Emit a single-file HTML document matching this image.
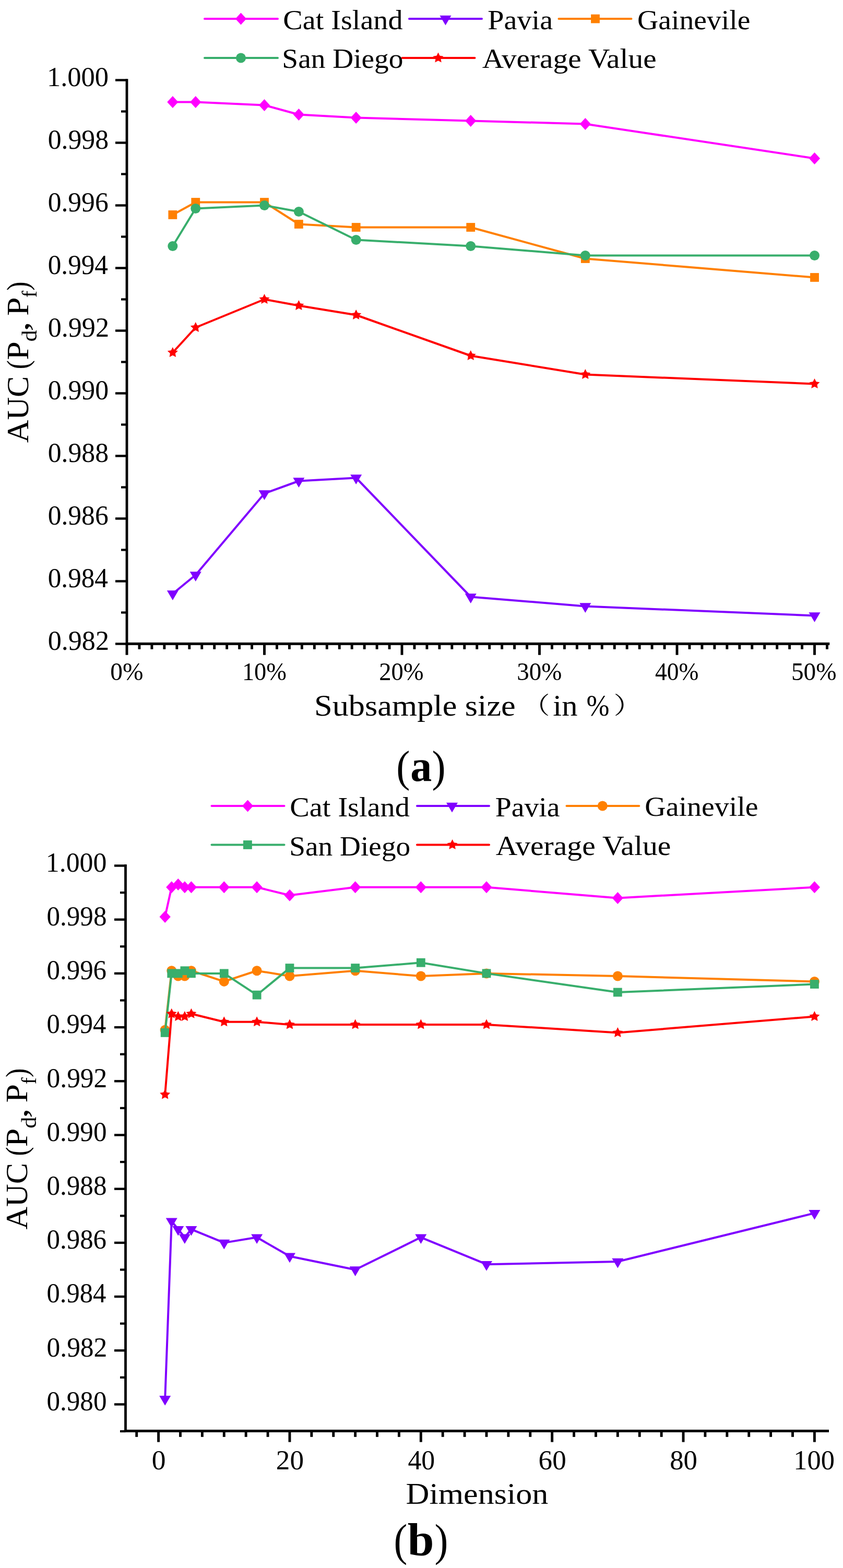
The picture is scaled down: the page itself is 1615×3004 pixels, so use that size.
<!DOCTYPE html>
<html><head><meta charset="utf-8"><style>
html,body{margin:0;padding:0;background:#fff;}
svg{display:block;}
</style></head><body>
<svg width="1615" height="3004" viewBox="0 0 1615 3004" font-family="'Liberation Serif', serif" fill="#000">
<rect width="1615" height="3004" fill="#fff"/>
<rect x="240.60" y="151.20" width="4.80" height="1084.70" fill="#000"/>
<rect x="240.60" y="1230.90" width="1348.70" height="5.00" fill="#000"/>
<rect x="221.00" y="151.30" width="22.00" height="4.40" fill="#000"/>
<text x="89.88" y="165.00" font-size="52.80" textLength="118.22" lengthAdjust="spacingAndGlyphs" >1.000</text>
<rect x="221.00" y="271.30" width="22.00" height="4.40" fill="#000"/>
<text x="91.74" y="285.00" font-size="52.80" textLength="116.33" lengthAdjust="spacingAndGlyphs" >0.998</text>
<rect x="221.00" y="391.30" width="22.00" height="4.40" fill="#000"/>
<text x="91.74" y="405.00" font-size="52.80" textLength="115.90" lengthAdjust="spacingAndGlyphs" >0.996</text>
<rect x="221.00" y="511.30" width="22.00" height="4.40" fill="#000"/>
<text x="91.76" y="525.00" font-size="52.80" textLength="115.16" lengthAdjust="spacingAndGlyphs" >0.994</text>
<rect x="221.00" y="631.30" width="22.00" height="4.40" fill="#000"/>
<text x="91.72" y="645.00" font-size="52.80" textLength="117.25" lengthAdjust="spacingAndGlyphs" >0.992</text>
<rect x="221.00" y="751.30" width="22.00" height="4.40" fill="#000"/>
<text x="91.74" y="765.00" font-size="52.80" textLength="116.33" lengthAdjust="spacingAndGlyphs" >0.990</text>
<rect x="221.00" y="871.30" width="22.00" height="4.40" fill="#000"/>
<text x="91.74" y="885.00" font-size="52.80" textLength="116.33" lengthAdjust="spacingAndGlyphs" >0.988</text>
<rect x="221.00" y="991.30" width="22.00" height="4.40" fill="#000"/>
<text x="91.74" y="1005.00" font-size="52.80" textLength="115.90" lengthAdjust="spacingAndGlyphs" >0.986</text>
<rect x="221.00" y="1111.30" width="22.00" height="4.40" fill="#000"/>
<text x="91.76" y="1125.00" font-size="52.80" textLength="115.16" lengthAdjust="spacingAndGlyphs" >0.984</text>
<rect x="221.00" y="1231.30" width="22.00" height="4.40" fill="#000"/>
<text x="91.72" y="1245.00" font-size="52.80" textLength="117.25" lengthAdjust="spacingAndGlyphs" >0.982</text>
<rect x="232.00" y="211.40" width="11.00" height="4.20" fill="#000"/>
<rect x="232.00" y="331.40" width="11.00" height="4.20" fill="#000"/>
<rect x="232.00" y="451.40" width="11.00" height="4.20" fill="#000"/>
<rect x="232.00" y="571.40" width="11.00" height="4.20" fill="#000"/>
<rect x="232.00" y="691.40" width="11.00" height="4.20" fill="#000"/>
<rect x="232.00" y="811.40" width="11.00" height="4.20" fill="#000"/>
<rect x="232.00" y="931.40" width="11.00" height="4.20" fill="#000"/>
<rect x="232.00" y="1051.40" width="11.00" height="4.20" fill="#000"/>
<rect x="232.00" y="1171.40" width="11.00" height="4.20" fill="#000"/>
<rect x="240.55" y="1233.40" width="4.90" height="21.40" fill="#000"/>
<rect x="504.05" y="1233.40" width="4.90" height="21.40" fill="#000"/>
<rect x="767.55" y="1233.40" width="4.90" height="21.40" fill="#000"/>
<rect x="1031.05" y="1233.40" width="4.90" height="21.40" fill="#000"/>
<rect x="1294.55" y="1233.40" width="4.90" height="21.40" fill="#000"/>
<rect x="1558.05" y="1233.40" width="4.90" height="21.40" fill="#000"/>
<rect x="264.50" y="1233.40" width="4.90" height="10.40" fill="#000"/>
<rect x="288.46" y="1233.40" width="4.90" height="10.40" fill="#000"/>
<rect x="312.41" y="1233.40" width="4.90" height="10.40" fill="#000"/>
<rect x="336.37" y="1233.40" width="4.90" height="10.40" fill="#000"/>
<rect x="360.32" y="1233.40" width="4.90" height="10.40" fill="#000"/>
<rect x="384.28" y="1233.40" width="4.90" height="10.40" fill="#000"/>
<rect x="408.23" y="1233.40" width="4.90" height="10.40" fill="#000"/>
<rect x="432.19" y="1233.40" width="4.90" height="10.40" fill="#000"/>
<rect x="456.14" y="1233.40" width="4.90" height="10.40" fill="#000"/>
<rect x="480.10" y="1233.40" width="4.90" height="10.40" fill="#000"/>
<rect x="528.00" y="1233.40" width="4.90" height="10.40" fill="#000"/>
<rect x="551.96" y="1233.40" width="4.90" height="10.40" fill="#000"/>
<rect x="575.91" y="1233.40" width="4.90" height="10.40" fill="#000"/>
<rect x="599.87" y="1233.40" width="4.90" height="10.40" fill="#000"/>
<rect x="623.82" y="1233.40" width="4.90" height="10.40" fill="#000"/>
<rect x="647.78" y="1233.40" width="4.90" height="10.40" fill="#000"/>
<rect x="671.73" y="1233.40" width="4.90" height="10.40" fill="#000"/>
<rect x="695.69" y="1233.40" width="4.90" height="10.40" fill="#000"/>
<rect x="719.64" y="1233.40" width="4.90" height="10.40" fill="#000"/>
<rect x="743.60" y="1233.40" width="4.90" height="10.40" fill="#000"/>
<rect x="791.50" y="1233.40" width="4.90" height="10.40" fill="#000"/>
<rect x="815.46" y="1233.40" width="4.90" height="10.40" fill="#000"/>
<rect x="839.41" y="1233.40" width="4.90" height="10.40" fill="#000"/>
<rect x="863.37" y="1233.40" width="4.90" height="10.40" fill="#000"/>
<rect x="887.32" y="1233.40" width="4.90" height="10.40" fill="#000"/>
<rect x="911.28" y="1233.40" width="4.90" height="10.40" fill="#000"/>
<rect x="935.23" y="1233.40" width="4.90" height="10.40" fill="#000"/>
<rect x="959.19" y="1233.40" width="4.90" height="10.40" fill="#000"/>
<rect x="983.14" y="1233.40" width="4.90" height="10.40" fill="#000"/>
<rect x="1007.10" y="1233.40" width="4.90" height="10.40" fill="#000"/>
<rect x="1055.00" y="1233.40" width="4.90" height="10.40" fill="#000"/>
<rect x="1078.96" y="1233.40" width="4.90" height="10.40" fill="#000"/>
<rect x="1102.91" y="1233.40" width="4.90" height="10.40" fill="#000"/>
<rect x="1126.87" y="1233.40" width="4.90" height="10.40" fill="#000"/>
<rect x="1150.82" y="1233.40" width="4.90" height="10.40" fill="#000"/>
<rect x="1174.78" y="1233.40" width="4.90" height="10.40" fill="#000"/>
<rect x="1198.73" y="1233.40" width="4.90" height="10.40" fill="#000"/>
<rect x="1222.69" y="1233.40" width="4.90" height="10.40" fill="#000"/>
<rect x="1246.64" y="1233.40" width="4.90" height="10.40" fill="#000"/>
<rect x="1270.60" y="1233.40" width="4.90" height="10.40" fill="#000"/>
<rect x="1318.50" y="1233.40" width="4.90" height="10.40" fill="#000"/>
<rect x="1342.46" y="1233.40" width="4.90" height="10.40" fill="#000"/>
<rect x="1366.41" y="1233.40" width="4.90" height="10.40" fill="#000"/>
<rect x="1390.37" y="1233.40" width="4.90" height="10.40" fill="#000"/>
<rect x="1414.32" y="1233.40" width="4.90" height="10.40" fill="#000"/>
<rect x="1438.28" y="1233.40" width="4.90" height="10.40" fill="#000"/>
<rect x="1462.23" y="1233.40" width="4.90" height="10.40" fill="#000"/>
<rect x="1486.19" y="1233.40" width="4.90" height="10.40" fill="#000"/>
<rect x="1510.14" y="1233.40" width="4.90" height="10.40" fill="#000"/>
<rect x="1534.10" y="1233.40" width="4.90" height="10.40" fill="#000"/>
<rect x="1582.00" y="1233.40" width="4.90" height="10.40" fill="#000"/>
<text x="211.20" y="1302.60" font-size="48.80" textLength="63.22" lengthAdjust="spacingAndGlyphs" >0%</text>
<text x="463.92" y="1302.60" font-size="48.80" textLength="85.06" lengthAdjust="spacingAndGlyphs" >10%</text>
<text x="726.25" y="1302.60" font-size="48.80" textLength="85.44" lengthAdjust="spacingAndGlyphs" >20%</text>
<text x="990.29" y="1302.60" font-size="48.80" textLength="86.15" lengthAdjust="spacingAndGlyphs" >30%</text>
<text x="1255.09" y="1302.60" font-size="48.80" textLength="83.46" lengthAdjust="spacingAndGlyphs" >40%</text>
<text x="1515.96" y="1302.60" font-size="48.80" textLength="86.54" lengthAdjust="spacingAndGlyphs" >50%</text>
<path d="M330.83,195.50 L374.75,195.50 L506.50,201.50 L572.38,219.50 L682.17,225.50 L901.75,231.50 L1121.33,237.50 L1560.50,303.50" fill="none" stroke="#FF00FF" stroke-width="4" stroke-linejoin="round" stroke-linecap="round"/>
<path d="M330.83,184.00L341.43,195.50L330.83,207.00L320.23,195.50Z" fill="#FF00FF"/>
<path d="M374.75,184.00L385.35,195.50L374.75,207.00L364.15,195.50Z" fill="#FF00FF"/>
<path d="M506.50,190.00L517.10,201.50L506.50,213.00L495.90,201.50Z" fill="#FF00FF"/>
<path d="M572.38,208.00L582.98,219.50L572.38,231.00L561.77,219.50Z" fill="#FF00FF"/>
<path d="M682.17,214.00L692.77,225.50L682.17,237.00L671.57,225.50Z" fill="#FF00FF"/>
<path d="M901.75,220.00L912.35,231.50L901.75,243.00L891.15,231.50Z" fill="#FF00FF"/>
<path d="M1121.33,226.00L1131.93,237.50L1121.33,249.00L1110.73,237.50Z" fill="#FF00FF"/>
<path d="M1560.50,292.00L1571.10,303.50L1560.50,315.00L1549.90,303.50Z" fill="#FF00FF"/>
<path d="M330.83,1137.50 L374.75,1101.50 L506.50,945.50 L572.38,921.50 L682.17,915.50 L901.75,1143.50 L1121.33,1161.50 L1560.50,1179.50" fill="none" stroke="#8000FF" stroke-width="4" stroke-linejoin="round" stroke-linecap="round"/>
<path d="M319.83,1131.30L341.83,1131.30L330.83,1150.00Z" fill="#8000FF"/>
<path d="M363.75,1095.30L385.75,1095.30L374.75,1114.00Z" fill="#8000FF"/>
<path d="M495.50,939.30L517.50,939.30L506.50,958.00Z" fill="#8000FF"/>
<path d="M561.38,915.30L583.38,915.30L572.38,934.00Z" fill="#8000FF"/>
<path d="M671.17,909.30L693.17,909.30L682.17,928.00Z" fill="#8000FF"/>
<path d="M890.75,1137.30L912.75,1137.30L901.75,1156.00Z" fill="#8000FF"/>
<path d="M1110.33,1155.30L1132.33,1155.30L1121.33,1174.00Z" fill="#8000FF"/>
<path d="M1549.50,1173.30L1571.50,1173.30L1560.50,1192.00Z" fill="#8000FF"/>
<path d="M330.83,411.50 L374.75,387.50 L506.50,387.50 L572.38,429.50 L682.17,435.50 L901.75,435.50 L1121.33,495.50 L1560.50,531.50" fill="none" stroke="#FF8000" stroke-width="4" stroke-linejoin="round" stroke-linecap="round"/>
<rect x="322.43" y="403.10" width="16.80" height="16.80" fill="#FF8000"/>
<rect x="366.35" y="379.10" width="16.80" height="16.80" fill="#FF8000"/>
<rect x="498.10" y="379.10" width="16.80" height="16.80" fill="#FF8000"/>
<rect x="563.98" y="421.10" width="16.80" height="16.80" fill="#FF8000"/>
<rect x="673.77" y="427.10" width="16.80" height="16.80" fill="#FF8000"/>
<rect x="893.35" y="427.10" width="16.80" height="16.80" fill="#FF8000"/>
<rect x="1112.93" y="487.10" width="16.80" height="16.80" fill="#FF8000"/>
<rect x="1552.10" y="523.10" width="16.80" height="16.80" fill="#FF8000"/>
<path d="M330.83,471.50 L374.75,399.50 L506.50,393.50 L572.38,405.50 L682.17,459.50 L901.75,471.50 L1121.33,489.50 L1560.50,489.50" fill="none" stroke="#38AE6C" stroke-width="4" stroke-linejoin="round" stroke-linecap="round"/>
<circle cx="330.83" cy="471.50" r="9.50" fill="#38AE6C"/>
<circle cx="374.75" cy="399.50" r="9.50" fill="#38AE6C"/>
<circle cx="506.50" cy="393.50" r="9.50" fill="#38AE6C"/>
<circle cx="572.38" cy="405.50" r="9.50" fill="#38AE6C"/>
<circle cx="682.17" cy="459.50" r="9.50" fill="#38AE6C"/>
<circle cx="901.75" cy="471.50" r="9.50" fill="#38AE6C"/>
<circle cx="1121.33" cy="489.50" r="9.50" fill="#38AE6C"/>
<circle cx="1560.50" cy="489.50" r="9.50" fill="#38AE6C"/>
<path d="M330.83,675.50 L374.75,627.50 L506.50,573.50 L572.38,585.50 L682.17,603.50 L901.75,681.50 L1121.33,717.50 L1560.50,735.50" fill="none" stroke="#FF0000" stroke-width="4" stroke-linejoin="round" stroke-linecap="round"/>
<polygon points="330.83,665.00 333.92,671.25 340.82,672.26 335.83,677.12 337.01,683.99 330.83,680.75 324.66,683.99 325.84,677.12 320.85,672.26 327.75,671.25" fill="#FF0000"/>
<polygon points="374.75,617.00 377.84,623.25 384.74,624.26 379.74,629.12 380.92,635.99 374.75,632.75 368.58,635.99 369.76,629.12 364.76,624.26 371.66,623.25" fill="#FF0000"/>
<polygon points="506.50,563.00 509.59,569.25 516.49,570.26 511.49,575.12 512.67,581.99 506.50,578.75 500.33,581.99 501.51,575.12 496.51,570.26 503.41,569.25" fill="#FF0000"/>
<polygon points="572.38,575.00 575.46,581.25 582.36,582.26 577.37,587.12 578.55,593.99 572.38,590.75 566.20,593.99 567.38,587.12 562.39,582.26 569.29,581.25" fill="#FF0000"/>
<polygon points="682.17,593.00 685.25,599.25 692.15,600.26 687.16,605.12 688.34,611.99 682.17,608.75 675.99,611.99 677.17,605.12 672.18,600.26 679.08,599.25" fill="#FF0000"/>
<polygon points="901.75,671.00 904.84,677.25 911.74,678.26 906.74,683.12 907.92,689.99 901.75,686.75 895.58,689.99 896.76,683.12 891.76,678.26 898.66,677.25" fill="#FF0000"/>
<polygon points="1121.33,707.00 1124.42,713.25 1131.32,714.26 1126.33,719.12 1127.51,725.99 1121.33,722.75 1115.16,725.99 1116.34,719.12 1111.35,714.26 1118.25,713.25" fill="#FF0000"/>
<polygon points="1560.50,725.00 1563.59,731.25 1570.49,732.26 1565.49,737.12 1566.67,743.99 1560.50,740.75 1554.33,743.99 1555.51,737.12 1550.51,732.26 1557.41,731.25" fill="#FF0000"/>
<line x1="392.00" y1="36.00" x2="532.00" y2="36.00" stroke="#FF00FF" stroke-width="4" stroke-linecap="round"/>
<path d="M461.50,24.50L472.10,36.00L461.50,47.50L450.90,36.00Z" fill="#FF00FF"/>
<line x1="784.00" y1="36.00" x2="923.00" y2="36.00" stroke="#8000FF" stroke-width="4" stroke-linecap="round"/>
<path d="M842.50,29.80L864.50,29.80L853.50,48.50Z" fill="#8000FF"/>
<line x1="1070.50" y1="36.00" x2="1209.50" y2="36.00" stroke="#FF8000" stroke-width="4" stroke-linecap="round"/>
<rect x="1132.10" y="27.60" width="16.80" height="16.80" fill="#FF8000"/>
<line x1="392.00" y1="111.00" x2="532.00" y2="111.00" stroke="#38AE6C" stroke-width="4" stroke-linecap="round"/>
<circle cx="461.50" cy="111.00" r="9.50" fill="#38AE6C"/>
<line x1="770.50" y1="111.00" x2="909.50" y2="111.00" stroke="#FF0000" stroke-width="4" stroke-linecap="round"/>
<polygon points="839.50,100.50 842.59,106.75 849.49,107.76 844.49,112.62 845.67,119.49 839.50,116.25 833.33,119.49 834.51,112.62 829.51,107.76 836.41,106.75" fill="#FF0000"/>
<text x="542.30" y="56.00" font-size="53.00" textLength="229.15" lengthAdjust="spacingAndGlyphs" >Cat Island</text>
<text x="934.37" y="56.00" font-size="53.00" textLength="124.80" lengthAdjust="spacingAndGlyphs" >Pavia</text>
<text x="1221.02" y="56.00" font-size="53.00" textLength="216.54" lengthAdjust="spacingAndGlyphs" >Gainevile</text>
<text x="540.39" y="130.30" font-size="53.00" textLength="232.00" lengthAdjust="spacingAndGlyphs" >San Diego</text>
<text x="923.73" y="129.50" font-size="53.00" textLength="333.90" lengthAdjust="spacingAndGlyphs" >Average Value</text>
<text x="602.03" y="1371.30" font-size="57.50" textLength="385.67" lengthAdjust="spacingAndGlyphs" >Subsample size</text>
<text x="1001.06" y="1368.02" font-size="45.19" font-family="'Liberation Serif', 'Noto Serif CJK SC', serif" textLength="52.45" lengthAdjust="spacingAndGlyphs" >（</text>
<text x="1175.56" y="1368.02" font-size="45.19" font-family="'Liberation Serif', 'Noto Serif CJK SC', serif" textLength="54.55" lengthAdjust="spacingAndGlyphs" >）</text>
<text x="1059.33" y="1370.60" font-size="57.50" textLength="47.17" lengthAdjust="spacingAndGlyphs" >in</text>
<text x="1123.50" y="1370.60" font-size="57.50" textLength="43.99" lengthAdjust="spacingAndGlyphs" >%</text>
<g transform="translate(53.70,847.70) rotate(-90)">
<text x="-0.61" y="0.00" font-size="59.00" textLength="127.75" lengthAdjust="spacingAndGlyphs" >AUC</text>
<text x="140.44" y="0.00" font-size="59.00" textLength="17.10" lengthAdjust="spacingAndGlyphs" >(</text>
<text x="157.84" y="0.00" font-size="59.00" textLength="35.63" lengthAdjust="spacingAndGlyphs" >P</text>
<text x="193.22" y="16.50" font-size="40.00" textLength="22.01" lengthAdjust="spacingAndGlyphs" >d</text>
<text x="212.72" y="0.00" font-size="59.00" textLength="18.96" lengthAdjust="spacingAndGlyphs" >,</text>
<text x="242.64" y="0.00" font-size="59.00" textLength="35.63" lengthAdjust="spacingAndGlyphs" >P</text>
<text x="277.46" y="16.50" font-size="40.00" textLength="13.34" lengthAdjust="spacingAndGlyphs" >f</text>
<text x="290.93" y="0.00" font-size="59.00" textLength="17.36" lengthAdjust="spacingAndGlyphs" >)</text>
</g>
<rect x="238.10" y="1656.10" width="4.80" height="1087.90" fill="#000"/>
<rect x="238.10" y="2739.00" width="1349.90" height="5.00" fill="#000"/>
<rect x="219.00" y="1656.30" width="21.50" height="4.40" fill="#000"/>
<text x="87.84" y="1669.80" font-size="52.30" textLength="116.63" lengthAdjust="spacingAndGlyphs" >1.000</text>
<rect x="219.00" y="1759.50" width="21.50" height="4.40" fill="#000"/>
<text x="89.56" y="1773.00" font-size="52.30" textLength="114.88" lengthAdjust="spacingAndGlyphs" >0.998</text>
<rect x="219.00" y="1862.70" width="21.50" height="4.40" fill="#000"/>
<text x="89.57" y="1876.20" font-size="52.30" textLength="114.46" lengthAdjust="spacingAndGlyphs" >0.996</text>
<rect x="219.00" y="1965.90" width="21.50" height="4.40" fill="#000"/>
<text x="89.58" y="1979.40" font-size="52.30" textLength="113.73" lengthAdjust="spacingAndGlyphs" >0.994</text>
<rect x="219.00" y="2069.10" width="21.50" height="4.40" fill="#000"/>
<text x="89.54" y="2082.60" font-size="52.30" textLength="115.79" lengthAdjust="spacingAndGlyphs" >0.992</text>
<rect x="219.00" y="2172.30" width="21.50" height="4.40" fill="#000"/>
<text x="89.56" y="2185.80" font-size="52.30" textLength="114.88" lengthAdjust="spacingAndGlyphs" >0.990</text>
<rect x="219.00" y="2275.50" width="21.50" height="4.40" fill="#000"/>
<text x="89.56" y="2289.00" font-size="52.30" textLength="114.88" lengthAdjust="spacingAndGlyphs" >0.988</text>
<rect x="219.00" y="2378.70" width="21.50" height="4.40" fill="#000"/>
<text x="89.57" y="2392.20" font-size="52.30" textLength="114.46" lengthAdjust="spacingAndGlyphs" >0.986</text>
<rect x="219.00" y="2481.90" width="21.50" height="4.40" fill="#000"/>
<text x="89.58" y="2495.40" font-size="52.30" textLength="113.73" lengthAdjust="spacingAndGlyphs" >0.984</text>
<rect x="219.00" y="2585.10" width="21.50" height="4.40" fill="#000"/>
<text x="89.54" y="2598.60" font-size="52.30" textLength="115.79" lengthAdjust="spacingAndGlyphs" >0.982</text>
<rect x="219.00" y="2688.30" width="21.50" height="4.40" fill="#000"/>
<text x="89.56" y="2701.80" font-size="52.30" textLength="114.88" lengthAdjust="spacingAndGlyphs" >0.980</text>
<rect x="230.00" y="1708.00" width="10.50" height="4.20" fill="#000"/>
<rect x="230.00" y="1811.20" width="10.50" height="4.20" fill="#000"/>
<rect x="230.00" y="1914.40" width="10.50" height="4.20" fill="#000"/>
<rect x="230.00" y="2017.60" width="10.50" height="4.20" fill="#000"/>
<rect x="230.00" y="2120.80" width="10.50" height="4.20" fill="#000"/>
<rect x="230.00" y="2224.00" width="10.50" height="4.20" fill="#000"/>
<rect x="230.00" y="2327.20" width="10.50" height="4.20" fill="#000"/>
<rect x="230.00" y="2430.40" width="10.50" height="4.20" fill="#000"/>
<rect x="230.00" y="2533.60" width="10.50" height="4.20" fill="#000"/>
<rect x="230.00" y="2636.80" width="10.50" height="4.20" fill="#000"/>
<rect x="230.00" y="2740.00" width="10.50" height="4.20" fill="#000"/>
<rect x="301.15" y="2741.50" width="4.90" height="21.20" fill="#000"/>
<rect x="552.51" y="2741.50" width="4.90" height="21.20" fill="#000"/>
<rect x="803.87" y="2741.50" width="4.90" height="21.20" fill="#000"/>
<rect x="1055.23" y="2741.50" width="4.90" height="21.20" fill="#000"/>
<rect x="1306.59" y="2741.50" width="4.90" height="21.20" fill="#000"/>
<rect x="1557.95" y="2741.50" width="4.90" height="21.20" fill="#000"/>
<rect x="259.26" y="2741.50" width="4.90" height="11.40" fill="#000"/>
<rect x="343.04" y="2741.50" width="4.90" height="11.40" fill="#000"/>
<rect x="384.94" y="2741.50" width="4.90" height="11.40" fill="#000"/>
<rect x="426.83" y="2741.50" width="4.90" height="11.40" fill="#000"/>
<rect x="468.72" y="2741.50" width="4.90" height="11.40" fill="#000"/>
<rect x="510.62" y="2741.50" width="4.90" height="11.40" fill="#000"/>
<rect x="594.40" y="2741.50" width="4.90" height="11.40" fill="#000"/>
<rect x="636.30" y="2741.50" width="4.90" height="11.40" fill="#000"/>
<rect x="678.19" y="2741.50" width="4.90" height="11.40" fill="#000"/>
<rect x="720.08" y="2741.50" width="4.90" height="11.40" fill="#000"/>
<rect x="761.98" y="2741.50" width="4.90" height="11.40" fill="#000"/>
<rect x="845.76" y="2741.50" width="4.90" height="11.40" fill="#000"/>
<rect x="887.66" y="2741.50" width="4.90" height="11.40" fill="#000"/>
<rect x="929.55" y="2741.50" width="4.90" height="11.40" fill="#000"/>
<rect x="971.44" y="2741.50" width="4.90" height="11.40" fill="#000"/>
<rect x="1013.34" y="2741.50" width="4.90" height="11.40" fill="#000"/>
<rect x="1097.12" y="2741.50" width="4.90" height="11.40" fill="#000"/>
<rect x="1139.02" y="2741.50" width="4.90" height="11.40" fill="#000"/>
<rect x="1180.91" y="2741.50" width="4.90" height="11.40" fill="#000"/>
<rect x="1222.80" y="2741.50" width="4.90" height="11.40" fill="#000"/>
<rect x="1264.70" y="2741.50" width="4.90" height="11.40" fill="#000"/>
<rect x="1348.48" y="2741.50" width="4.90" height="11.40" fill="#000"/>
<rect x="1390.38" y="2741.50" width="4.90" height="11.40" fill="#000"/>
<rect x="1432.27" y="2741.50" width="4.90" height="11.40" fill="#000"/>
<rect x="1474.16" y="2741.50" width="4.90" height="11.40" fill="#000"/>
<rect x="1516.06" y="2741.50" width="4.90" height="11.40" fill="#000"/>
<text x="290.82" y="2814.50" font-size="53.00" textLength="26.77" lengthAdjust="spacingAndGlyphs" >0</text>
<text x="528.82" y="2814.50" font-size="53.00" textLength="53.16" lengthAdjust="spacingAndGlyphs" >20</text>
<text x="781.48" y="2814.50" font-size="53.00" textLength="51.80" lengthAdjust="spacingAndGlyphs" >40</text>
<text x="1031.60" y="2814.50" font-size="53.00" textLength="53.10" lengthAdjust="spacingAndGlyphs" >60</text>
<text x="1283.23" y="2814.50" font-size="53.00" textLength="52.81" lengthAdjust="spacingAndGlyphs" >80</text>
<text x="1520.33" y="2814.50" font-size="53.00" textLength="78.71" lengthAdjust="spacingAndGlyphs" >100</text>
<path d="M316.17,1756.54 L328.74,1699.78 L341.30,1694.62 L353.87,1699.78 L366.44,1699.78 L429.28,1699.78 L492.12,1699.78 L554.96,1715.26 L680.64,1699.78 L806.32,1699.78 L932.00,1699.78 L1183.36,1720.42 L1560.40,1699.78" fill="none" stroke="#FF00FF" stroke-width="4" stroke-linejoin="round" stroke-linecap="round"/>
<path d="M316.17,1745.04L326.77,1756.54L316.17,1768.04L305.57,1756.54Z" fill="#FF00FF"/>
<path d="M328.74,1688.28L339.34,1699.78L328.74,1711.28L318.14,1699.78Z" fill="#FF00FF"/>
<path d="M341.30,1683.12L351.90,1694.62L341.30,1706.12L330.70,1694.62Z" fill="#FF00FF"/>
<path d="M353.87,1688.28L364.47,1699.78L353.87,1711.28L343.27,1699.78Z" fill="#FF00FF"/>
<path d="M366.44,1688.28L377.04,1699.78L366.44,1711.28L355.84,1699.78Z" fill="#FF00FF"/>
<path d="M429.28,1688.28L439.88,1699.78L429.28,1711.28L418.68,1699.78Z" fill="#FF00FF"/>
<path d="M492.12,1688.28L502.72,1699.78L492.12,1711.28L481.52,1699.78Z" fill="#FF00FF"/>
<path d="M554.96,1703.76L565.56,1715.26L554.96,1726.76L544.36,1715.26Z" fill="#FF00FF"/>
<path d="M680.64,1688.28L691.24,1699.78L680.64,1711.28L670.04,1699.78Z" fill="#FF00FF"/>
<path d="M806.32,1688.28L816.92,1699.78L806.32,1711.28L795.72,1699.78Z" fill="#FF00FF"/>
<path d="M932.00,1688.28L942.60,1699.78L932.00,1711.28L921.40,1699.78Z" fill="#FF00FF"/>
<path d="M1183.36,1708.92L1193.96,1720.42L1183.36,1731.92L1172.76,1720.42Z" fill="#FF00FF"/>
<path d="M1560.40,1688.28L1571.00,1699.78L1560.40,1711.28L1549.80,1699.78Z" fill="#FF00FF"/>
<path d="M316.17,2680.18 L328.74,2339.62 L341.30,2355.10 L353.87,2370.58 L366.44,2355.10 L429.28,2380.90 L492.12,2370.58 L554.96,2406.70 L680.64,2432.50 L806.32,2370.58 L932.00,2422.18 L1183.36,2417.02 L1560.40,2324.14" fill="none" stroke="#8000FF" stroke-width="4" stroke-linejoin="round" stroke-linecap="round"/>
<path d="M305.17,2673.98L327.17,2673.98L316.17,2692.68Z" fill="#8000FF"/>
<path d="M317.74,2333.42L339.74,2333.42L328.74,2352.12Z" fill="#8000FF"/>
<path d="M330.30,2348.90L352.30,2348.90L341.30,2367.60Z" fill="#8000FF"/>
<path d="M342.87,2364.38L364.87,2364.38L353.87,2383.08Z" fill="#8000FF"/>
<path d="M355.44,2348.90L377.44,2348.90L366.44,2367.60Z" fill="#8000FF"/>
<path d="M418.28,2374.70L440.28,2374.70L429.28,2393.40Z" fill="#8000FF"/>
<path d="M481.12,2364.38L503.12,2364.38L492.12,2383.08Z" fill="#8000FF"/>
<path d="M543.96,2400.50L565.96,2400.50L554.96,2419.20Z" fill="#8000FF"/>
<path d="M669.64,2426.30L691.64,2426.30L680.64,2445.00Z" fill="#8000FF"/>
<path d="M795.32,2364.38L817.32,2364.38L806.32,2383.08Z" fill="#8000FF"/>
<path d="M921.00,2415.98L943.00,2415.98L932.00,2434.68Z" fill="#8000FF"/>
<path d="M1172.36,2410.82L1194.36,2410.82L1183.36,2429.52Z" fill="#8000FF"/>
<path d="M1549.40,2317.94L1571.40,2317.94L1560.40,2336.64Z" fill="#8000FF"/>
<path d="M316.17,1973.26 L328.74,1859.74 L341.30,1870.06 L353.87,1870.06 L366.44,1859.74 L429.28,1880.38 L492.12,1859.74 L554.96,1870.06 L680.64,1859.74 L806.32,1870.06 L932.00,1864.90 L1183.36,1870.06 L1560.40,1880.38" fill="none" stroke="#FF8000" stroke-width="4" stroke-linejoin="round" stroke-linecap="round"/>
<circle cx="316.17" cy="1973.26" r="9.50" fill="#FF8000"/>
<circle cx="328.74" cy="1859.74" r="9.50" fill="#FF8000"/>
<circle cx="341.30" cy="1870.06" r="9.50" fill="#FF8000"/>
<circle cx="353.87" cy="1870.06" r="9.50" fill="#FF8000"/>
<circle cx="366.44" cy="1859.74" r="9.50" fill="#FF8000"/>
<circle cx="429.28" cy="1880.38" r="9.50" fill="#FF8000"/>
<circle cx="492.12" cy="1859.74" r="9.50" fill="#FF8000"/>
<circle cx="554.96" cy="1870.06" r="9.50" fill="#FF8000"/>
<circle cx="680.64" cy="1859.74" r="9.50" fill="#FF8000"/>
<circle cx="806.32" cy="1870.06" r="9.50" fill="#FF8000"/>
<circle cx="932.00" cy="1864.90" r="9.50" fill="#FF8000"/>
<circle cx="1183.36" cy="1870.06" r="9.50" fill="#FF8000"/>
<circle cx="1560.40" cy="1880.38" r="9.50" fill="#FF8000"/>
<path d="M316.17,1978.42 L328.74,1864.90 L341.30,1864.90 L353.87,1859.74 L366.44,1864.90 L429.28,1864.90 L492.12,1906.18 L554.96,1854.58 L680.64,1854.58 L806.32,1844.26 L932.00,1864.90 L1183.36,1901.02 L1560.40,1885.54" fill="none" stroke="#38AE6C" stroke-width="4" stroke-linejoin="round" stroke-linecap="round"/>
<rect x="307.77" y="1970.02" width="16.80" height="16.80" fill="#38AE6C"/>
<rect x="320.34" y="1856.50" width="16.80" height="16.80" fill="#38AE6C"/>
<rect x="332.90" y="1856.50" width="16.80" height="16.80" fill="#38AE6C"/>
<rect x="345.47" y="1851.34" width="16.80" height="16.80" fill="#38AE6C"/>
<rect x="358.04" y="1856.50" width="16.80" height="16.80" fill="#38AE6C"/>
<rect x="420.88" y="1856.50" width="16.80" height="16.80" fill="#38AE6C"/>
<rect x="483.72" y="1897.78" width="16.80" height="16.80" fill="#38AE6C"/>
<rect x="546.56" y="1846.18" width="16.80" height="16.80" fill="#38AE6C"/>
<rect x="672.24" y="1846.18" width="16.80" height="16.80" fill="#38AE6C"/>
<rect x="797.92" y="1835.86" width="16.80" height="16.80" fill="#38AE6C"/>
<rect x="923.60" y="1856.50" width="16.80" height="16.80" fill="#38AE6C"/>
<rect x="1174.96" y="1892.62" width="16.80" height="16.80" fill="#38AE6C"/>
<rect x="1552.00" y="1877.14" width="16.80" height="16.80" fill="#38AE6C"/>
<path d="M316.17,2097.10 L328.74,1942.30 L341.30,1947.46 L353.87,1947.46 L366.44,1942.30 L429.28,1957.78 L492.12,1957.78 L554.96,1962.94 L680.64,1962.94 L806.32,1962.94 L932.00,1962.94 L1183.36,1978.42 L1560.40,1947.46" fill="none" stroke="#FF0000" stroke-width="4" stroke-linejoin="round" stroke-linecap="round"/>
<polygon points="316.17,2086.60 319.25,2092.85 326.15,2093.86 321.16,2098.72 322.34,2105.59 316.17,2102.35 310.00,2105.59 311.17,2098.72 306.18,2093.86 313.08,2092.85" fill="#FF0000"/>
<polygon points="328.74,1931.80 331.82,1938.05 338.72,1939.06 333.73,1943.92 334.91,1950.79 328.74,1947.55 322.56,1950.79 323.74,1943.92 318.75,1939.06 325.65,1938.05" fill="#FF0000"/>
<polygon points="341.30,1936.96 344.39,1943.21 351.29,1944.22 346.30,1949.08 347.48,1955.95 341.30,1952.71 335.13,1955.95 336.31,1949.08 331.32,1944.22 338.22,1943.21" fill="#FF0000"/>
<polygon points="353.87,1936.96 356.96,1943.21 363.86,1944.22 358.87,1949.08 360.04,1955.95 353.87,1952.71 347.70,1955.95 348.88,1949.08 343.89,1944.22 350.79,1943.21" fill="#FF0000"/>
<polygon points="366.44,1931.80 369.53,1938.05 376.43,1939.06 371.43,1943.92 372.61,1950.79 366.44,1947.55 360.27,1950.79 361.45,1943.92 356.45,1939.06 363.35,1938.05" fill="#FF0000"/>
<polygon points="429.28,1947.28 432.37,1953.53 439.27,1954.54 434.27,1959.40 435.45,1966.27 429.28,1963.03 423.11,1966.27 424.29,1959.40 419.29,1954.54 426.19,1953.53" fill="#FF0000"/>
<polygon points="492.12,1947.28 495.21,1953.53 502.11,1954.54 497.11,1959.40 498.29,1966.27 492.12,1963.03 485.95,1966.27 487.13,1959.40 482.13,1954.54 489.03,1953.53" fill="#FF0000"/>
<polygon points="554.96,1952.44 558.05,1958.69 564.95,1959.70 559.95,1964.56 561.13,1971.43 554.96,1968.19 548.79,1971.43 549.97,1964.56 544.97,1959.70 551.87,1958.69" fill="#FF0000"/>
<polygon points="680.64,1952.44 683.73,1958.69 690.63,1959.70 685.63,1964.56 686.81,1971.43 680.64,1968.19 674.47,1971.43 675.65,1964.56 670.65,1959.70 677.55,1958.69" fill="#FF0000"/>
<polygon points="806.32,1952.44 809.41,1958.69 816.31,1959.70 811.31,1964.56 812.49,1971.43 806.32,1968.19 800.15,1971.43 801.33,1964.56 796.33,1959.70 803.23,1958.69" fill="#FF0000"/>
<polygon points="932.00,1952.44 935.09,1958.69 941.99,1959.70 936.99,1964.56 938.17,1971.43 932.00,1968.19 925.83,1971.43 927.01,1964.56 922.01,1959.70 928.91,1958.69" fill="#FF0000"/>
<polygon points="1183.36,1967.92 1186.45,1974.17 1193.35,1975.18 1188.35,1980.04 1189.53,1986.91 1183.36,1983.67 1177.19,1986.91 1178.37,1980.04 1173.37,1975.18 1180.27,1974.17" fill="#FF0000"/>
<polygon points="1560.40,1936.96 1563.49,1943.21 1570.39,1944.22 1565.39,1949.08 1566.57,1955.95 1560.40,1952.71 1554.23,1955.95 1555.41,1949.08 1550.41,1944.22 1557.31,1943.21" fill="#FF0000"/>
<line x1="405.50" y1="1544.00" x2="544.50" y2="1544.00" stroke="#FF00FF" stroke-width="4" stroke-linecap="round"/>
<path d="M474.50,1532.50L485.10,1544.00L474.50,1555.50L463.90,1544.00Z" fill="#FF00FF"/>
<line x1="799.00" y1="1544.00" x2="937.00" y2="1544.00" stroke="#8000FF" stroke-width="4" stroke-linecap="round"/>
<path d="M855.00,1537.80L877.00,1537.80L866.00,1556.50Z" fill="#8000FF"/>
<line x1="1085.50" y1="1544.00" x2="1224.30" y2="1544.00" stroke="#FF8000" stroke-width="4" stroke-linecap="round"/>
<circle cx="1154.30" cy="1544.00" r="9.50" fill="#FF8000"/>
<line x1="405.50" y1="1618.50" x2="544.50" y2="1618.50" stroke="#38AE6C" stroke-width="4" stroke-linecap="round"/>
<rect x="466.00" y="1610.10" width="16.80" height="16.80" fill="#38AE6C"/>
<line x1="799.00" y1="1618.50" x2="937.00" y2="1618.50" stroke="#FF0000" stroke-width="4" stroke-linecap="round"/>
<polygon points="866.60,1608.00 869.69,1614.25 876.59,1615.26 871.59,1620.12 872.77,1626.99 866.60,1623.75 860.43,1626.99 861.61,1620.12 856.61,1615.26 863.51,1614.25" fill="#FF0000"/>
<text x="555.30" y="1564.00" font-size="53.00" textLength="229.45" lengthAdjust="spacingAndGlyphs" >Cat Island</text>
<text x="948.68" y="1563.50" font-size="53.00" textLength="123.78" lengthAdjust="spacingAndGlyphs" >Pavia</text>
<text x="1235.31" y="1562.80" font-size="53.00" textLength="217.36" lengthAdjust="spacingAndGlyphs" >Gainevile</text>
<text x="554.30" y="1638.50" font-size="53.00" textLength="231.90" lengthAdjust="spacingAndGlyphs" >San Diego</text>
<text x="949.82" y="1638.00" font-size="53.00" textLength="335.51" lengthAdjust="spacingAndGlyphs" >Average Value</text>
<text x="777.60" y="2880.50" font-size="57.50" textLength="272.81" lengthAdjust="spacingAndGlyphs" >Dimension</text>
<g transform="translate(52.00,2355.00) rotate(-90)">
<text x="-0.61" y="0.00" font-size="59.00" textLength="127.75" lengthAdjust="spacingAndGlyphs" >AUC</text>
<text x="140.44" y="0.00" font-size="59.00" textLength="17.10" lengthAdjust="spacingAndGlyphs" >(</text>
<text x="157.84" y="0.00" font-size="59.00" textLength="35.63" lengthAdjust="spacingAndGlyphs" >P</text>
<text x="193.22" y="16.50" font-size="40.00" textLength="22.01" lengthAdjust="spacingAndGlyphs" >d</text>
<text x="212.72" y="0.00" font-size="59.00" textLength="18.96" lengthAdjust="spacingAndGlyphs" >,</text>
<text x="242.64" y="0.00" font-size="59.00" textLength="35.63" lengthAdjust="spacingAndGlyphs" >P</text>
<text x="277.46" y="16.50" font-size="40.00" textLength="13.34" lengthAdjust="spacingAndGlyphs" >f</text>
<text x="290.93" y="0.00" font-size="59.00" textLength="17.36" lengthAdjust="spacingAndGlyphs" >)</text>
</g>
<text x="759.34" y="1496.60" font-size="85.45" textLength="26.17" lengthAdjust="spacingAndGlyphs" >(</text>
<text x="786.17" y="1496.14" font-size="85.59" font-weight="bold" textLength="41.06" lengthAdjust="spacingAndGlyphs" >a</text>
<text x="827.48" y="1496.60" font-size="85.45" textLength="26.17" lengthAdjust="spacingAndGlyphs" >)</text>
<text x="754.59" y="2979.53" font-size="85.78" textLength="25.79" lengthAdjust="spacingAndGlyphs" >(</text>
<text x="780.81" y="2980.30" font-size="89.77" font-weight="bold" textLength="50.75" lengthAdjust="spacingAndGlyphs" >b</text>
<text x="832.51" y="2979.53" font-size="85.78" textLength="25.92" lengthAdjust="spacingAndGlyphs" >)</text>
</svg>
</body></html>
